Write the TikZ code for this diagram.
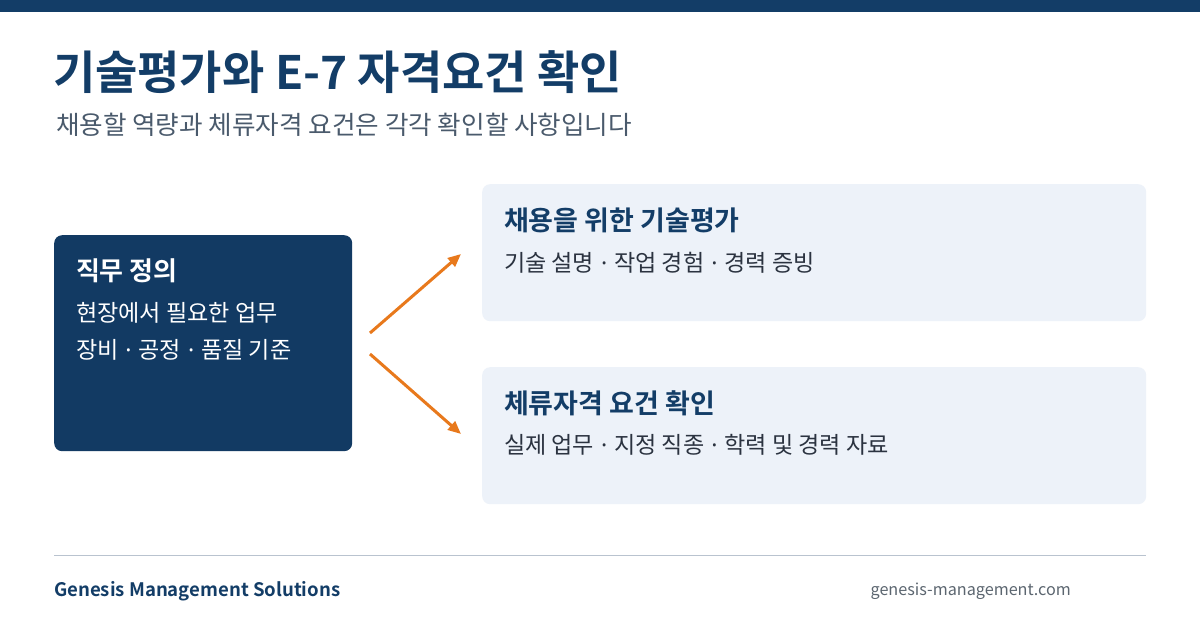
\documentclass[tikz,border=0pt]{standalone}
\usepackage{fontspec}
\setmainfont{Noto Sans CJK KR}
\newfontfamily\krbold{Noto Sans CJK KR Bold}
\newfontfamily\latinfont{Noto Sans}
\usetikzlibrary{arrows.meta}
\definecolor{navy}{HTML}{133D67}
\definecolor{boxnavy}{HTML}{123A63}
\definecolor{lightbox}{HTML}{EDF2F9}
\definecolor{subgray}{HTML}{4A5A6C}
\definecolor{bodytext}{HTML}{2B3340}
\definecolor{arroworange}{HTML}{E8791C}
\definecolor{rulegray}{HTML}{B9C3CF}
\definecolor{urlgray}{HTML}{5C6670}
\newcommand{\md}{\hspace{1.8pt}{\latinfont ·}\hspace{1.8pt}}
\tikzset{
  txt/.style={anchor=west, inner sep=0pt, outer sep=0pt},
  boxtitle/.style={txt, font=\krbold\fontsize{27}{32}\selectfont},
  boxline/.style={txt, font=\fontsize{23.1}{27}\selectfont},
  conn/.style={draw=arroworange, line width=3pt, -{Triangle[length=13pt,width=11pt]}},
}
\begin{document}
\begin{tikzpicture}[x=1pt,y=-1pt]
\useasboundingbox (0,0) rectangle (1200,630);
\fill[white] (0,0) rectangle (1200,630);
\fill[navy] (0,0) rectangle (1200,12);
\node[txt, text=navy, font=\krbold\fontsize{46}{54}\selectfont] (title) at (53,72) {기술평가와 E-7 자격요건 확인};
\node[txt, text=subgray, font=\fontsize{25.6}{30}\selectfont] (subtitle) at (56,125) {채용할 역량과 체류자격 요건은 각각 확인할 사항입니다};
% left box
\node[fill=boxnavy, rounded corners=8pt, minimum width=298pt, minimum height=216pt, anchor=north west, inner sep=0pt] (job) at (54,235) {};
\node[boxtitle, text=white, font=\krbold\fontsize{26}{31}\selectfont] (jobt) at (76,271) {직무 정의};
\node[boxline, text=white] (jobl1) at (76,313) {현장에서 필요한 업무};
\node[boxline, text=white] (jobl2) at (76,350) {장비 \md{} 공정 \md{} 품질 기준};
% right boxes
\node[fill=lightbox, rounded corners=8pt, minimum width=664pt, minimum height=137pt, anchor=north west, inner sep=0pt] (tech) at (482,184) {};
\node[boxtitle, text=navy] (techt) at (504,220) {채용을 위한 기술평가};
\node[boxline, text=bodytext] (techl) at (504,263) {기술 설명 \md{} 작업 경험 \md{} 경력 증빙};
\node[fill=lightbox, rounded corners=8pt, minimum width=664pt, minimum height=137pt, anchor=north west, inner sep=0pt] (visa) at (482,367) {};
\node[boxtitle, text=navy] (visat) at (504,403) {체류자격 요건 확인};
\node[boxline, text=bodytext] (visal) at (504,445) {실제 업무 \md{} 지정 직종 \md{} 학력 및 경력 자료};
% arrows
\coordinate (a1s) at (370,333);
\coordinate (a1e) at (461,254);
\coordinate (a2s) at (370,354);
\coordinate (a2e) at (461,434);
\draw[conn] (a1s) -- (a1e);
\draw[conn] (a2s) -- (a2e);
% footer
\coordinate (r1) at (54,555);
\coordinate (r2) at (1146,555);
\draw[rulegray, line width=1pt] (r1) -- (r2);
\node[txt, text=navy, font=\krbold\fontsize{18.6}{22}\selectfont] (brand) at (54,591) {Genesis Management Solutions};
\node[anchor=east, inner sep=0pt, text=urlgray, font=\fontsize{16.2}{20}\selectfont] (url) at (1071,591) {genesis-management.com};
\end{tikzpicture}
\end{document}
